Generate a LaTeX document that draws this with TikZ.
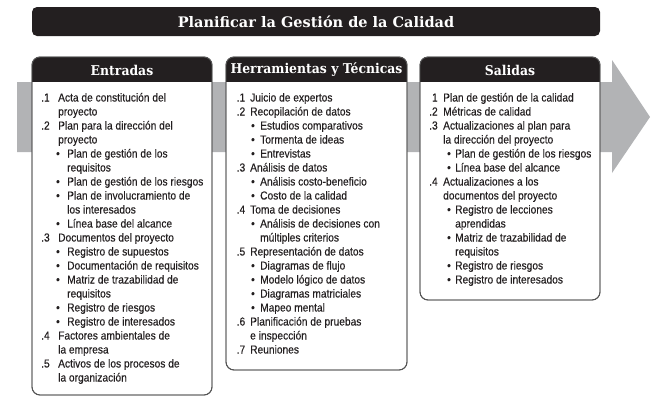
\documentclass[tikz,border=0pt]{standalone}
\usepackage{fontspec}
\setmainfont[FakeStretch=0.88,FakeBold=0.3]{Liberation Sans}
\newfontfamily\hdfont[FakeStretch=0.92]{DejaVu Serif}
\newfontfamily\titlefont{DejaVu Serif}
\definecolor{ink}{HTML}{231F20}
\definecolor{arrowgray}{HTML}{B2B3B5}
\definecolor{boxline}{HTML}{555555}
\newlength\nA \newlength\tA \newlength\bA \newlength\btA
\newcommand\numitem[2]{\par\hangindent=\tA\hangafter=1\noindent\hspace*{\nA}\makebox[\dimexpr\tA-\nA\relax][l]{#1}\ignorespaces#2}
\newcommand\bulitem[1]{\par\hangindent=\btA\hangafter=1\noindent\hspace*{\bA}\makebox[\dimexpr\btA-\bA\relax][l]{•}\ignorespaces#1}
\newcommand\bodyset[4]{\fontsize{11.6}{14}\selectfont\raggedright\parindent=0pt\parskip=0pt
  \setlength\nA{#1}\setlength\tA{#2}\setlength\bA{#3}\setlength\btA{#4}}
\tikzset{
  panel/.style={draw=boxline, line width=0.9pt, fill=white, rounded corners=8pt},
  hdrtext/.style={text=white, font=\hdfont\bfseries\fontsize{13.5}{15}\selectfont, inner sep=0pt, anchor=center},
  bodytext/.style={text=ink, inner sep=0pt, anchor=base west},
}
\begin{document}
\begin{tikzpicture}[x=1pt,y=-1pt]
\useasboundingbox (0,0) rectangle (663,413);
% title bar
\fill[ink, rounded corners=5pt] (32,7) rectangle (600,36);
\node[hdrtext, font=\titlefont\bfseries\fontsize{14.5}{16}\selectfont] (title) at (316,21.5) {Planificar la Gestión de la Calidad};
% big gray arrow
\fill[arrowgray] (17,82) -- (612,82) -- (612,60) -- (650,117) -- (612,173) -- (612,152) -- (17,152) -- cycle;
% panels
\foreach \xa/\xb/\yb in {32/212/395, 226/407/370, 420/600/300}{
  \draw[panel] (\xa,57) rectangle (\xb,\yb);
  \begin{scope}
    \clip[rounded corners=8pt] (\xa,57) rectangle (\xb,\yb);
    \fill[ink] (\xa,57) rectangle (\xb,82);
  \end{scope}
  \draw[boxline, line width=0.9pt, rounded corners=8pt] (\xa,57) rectangle (\xb,\yb);
}
\node[hdrtext] (hE) at (122,70) {Entradas};
\node[hdrtext] (hH) at (316.5,70) {Herramientas y Técnicas};
\node[hdrtext] (hS) at (510,70) {Salidas};
% Entradas
\node[bodytext] (tE) at (32,101.5) {\parbox[t]{195pt}{\bodyset{9pt}{26pt}{24pt}{35pt}%
\numitem{.1}{Acta de constitución del\newline proyecto}
\numitem{.2}{Plan para la dirección del\newline proyecto}
\bulitem{Plan de gestión de los\newline requisitos}
\bulitem{Plan de gestión de los riesgos}
\bulitem{Plan de involucramiento de\newline los interesados}
\bulitem{Línea base del alcance}
\numitem{.3}{Documentos del proyecto}
\bulitem{Registro de supuestos}
\bulitem{Documentación de requisitos}
\bulitem{Matriz de trazabilidad de\newline requisitos}
\bulitem{Registro de riesgos}
\bulitem{Registro de interesados}
\numitem{.4}{Factores ambientales de\newline la empresa}
\numitem{.5}{Activos de los procesos de\newline la organización}}};
% Herramientas
\node[bodytext] (tH) at (226,101.5) {\parbox[t]{195pt}{\bodyset{10.5pt}{24pt}{25pt}{34pt}%
\numitem{.1}{Juicio de expertos}
\numitem{.2}{Recopilación de datos}
\bulitem{Estudios comparativos}
\bulitem{Tormenta de ideas}
\bulitem{Entrevistas}
\numitem{.3}{Análisis de datos}
\bulitem{Análisis costo-beneficio}
\bulitem{Costo de la calidad}
\numitem{.4}{Toma de decisiones}
\bulitem{Análisis de decisiones con\newline múltiples criterios}
\numitem{.5}{Representación de datos}
\bulitem{Diagramas de flujo}
\bulitem{Modelo lógico de datos}
\bulitem{Diagramas matriciales}
\bulitem{Mapeo mental}
\numitem{.6}{Planificación de pruebas\newline e inspección}
\numitem{.7}{Reuniones}}};
% Salidas
\node[bodytext] (tS) at (420,101.5) {\parbox[t]{195pt}{\bodyset{9pt}{23pt}{27pt}{35pt}%
\numitem{\phantom{.}1}{Plan de gestión de la calidad}
\numitem{.2}{Métricas de calidad}
\numitem{.3}{Actualizaciones al plan para\newline la dirección del proyecto}
\bulitem{Plan de gestión de los riesgos}
\bulitem{Línea base del alcance}
\numitem{.4}{Actualizaciones a los\newline documentos del proyecto}
\bulitem{Registro de lecciones\newline aprendidas}
\bulitem{Matriz de trazabilidad de\newline requisitos}
\bulitem{Registro de riesgos}
\bulitem{Registro de interesados}}};
\end{tikzpicture}
\end{document}
